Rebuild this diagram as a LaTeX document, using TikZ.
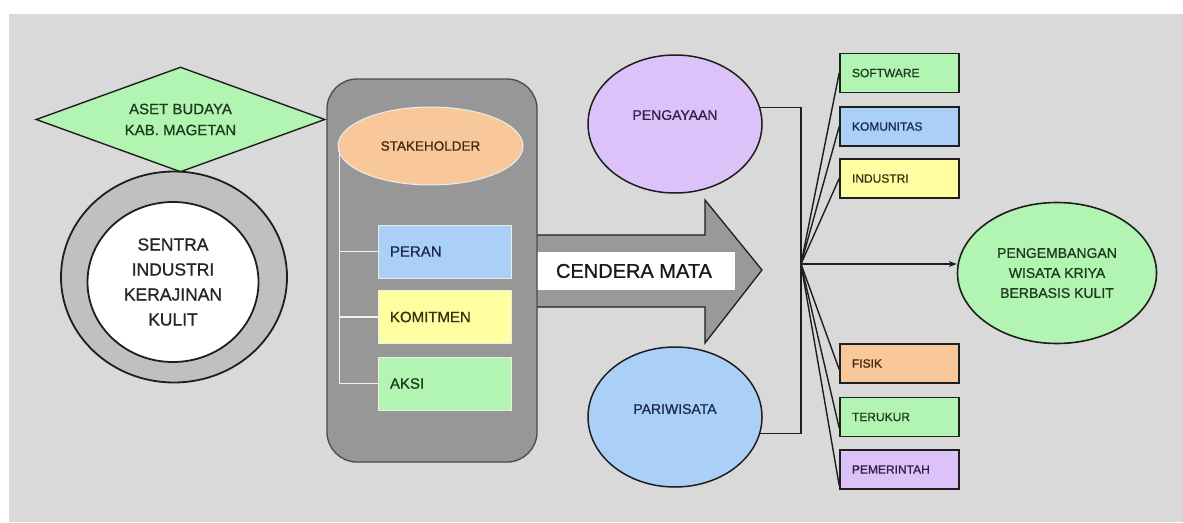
\documentclass[tikz,border=0pt]{standalone}
\usepackage{fontspec}
\setmainfont{Liberation Sans}[FakeBold=0.9]
\usetikzlibrary{shapes.geometric,arrows.meta}
\definecolor{bgc}{HTML}{D9D9D9}
\definecolor{ringc}{HTML}{C0C0C0}
\definecolor{panelc}{HTML}{979797}
\definecolor{arrowc}{HTML}{999999}
\definecolor{lgreen}{HTML}{B2F5B2}
\definecolor{lblue}{HTML}{AAD0F8}
\definecolor{lyellow}{HTML}{FFFFA2}
\definecolor{lorange}{HTML}{F8C89A}
\definecolor{lpurple}{HTML}{DCC2F8}
\definecolor{tgreen}{HTML}{1E3A1E}
\definecolor{tblue}{HTML}{1A2A4E}
\definecolor{tyellow}{HTML}{34340E}
\definecolor{torange}{HTML}{45280F}
\definecolor{tpurple}{HTML}{36204C}
\definecolor{edgec}{HTML}{1E1E1E}
\tikzset{
  x=1pt, y=-1pt,
  panelbox/.style={draw=white!85!gray, line width=1pt, minimum width=133pt, minimum height=53pt,
    inner xsep=12pt, text width=109pt, align=left, font=\fontsize{15}{18}\selectfont},
  sidebox/.style={draw=edgec, line width=1.6pt, minimum width=119pt, minimum height=39pt,
    inner xsep=12pt, text width=95pt, align=left, font=\fontsize{12}{14}\selectfont},
  bigell/.style={ellipse, draw=edgec, line width=1.5pt, inner sep=0pt},
  wline/.style={draw=white!90!gray, line width=1.4pt},
  blink/.style={draw=edgec, line width=1.4pt},
}
\begin{document}
\begin{tikzpicture}
\useasboundingbox (0,0) rectangle (1183,522);
\fill[bgc] (9,14) rectangle (1183,522);

% left side
\node[diamond, aspect=2.75, draw=edgec, line width=1.4pt, fill=lgreen, minimum width=289pt, minimum height=105pt,
  inner sep=0pt, text=tgreen, align=center, font=\fontsize{15}{21}\selectfont]
  (aset) at (180.5,119.5) {ASET BUDAYA\\KAB. MAGETAN};
\node[ellipse, draw=edgec, line width=1.8pt, fill=ringc, minimum width=226pt, minimum height=211pt,
  inner sep=0pt] (ring) at (174,277) {};
\node[ellipse, draw=edgec, line width=1.8pt, fill=white, minimum width=171pt, minimum height=160pt,
  inner sep=0pt, align=center, text=black!85, font=\fontsize{17.5}{25}\selectfont]
  (sentra) at (173,282) {SENTRA\\INDUSTRI\\KERAJINAN\\KULIT};

% big arrow
\draw[fill=arrowc, draw=edgec, line width=1.3pt]
  (530,235) -- (705,235) -- (705,200) -- (762,270) -- (705,343) -- (705,307) -- (530,307);
\node[fill=white, minimum width=198pt, minimum height=38pt, inner sep=0pt] (cbox) at (636,271) {};
\node[font=\fontsize{20}{22}\selectfont, text=black!90, inner sep=0pt] (cm) at (634,271) {CENDERA MATA};

% panel
\draw[fill=panelc, draw=edgec!80, line width=1.3pt, rounded corners=30pt] (327,79) rectangle (537,462);
\node[ellipse, fill=lorange, draw=white!85!gray, line width=1pt, minimum width=185pt, minimum height=78pt,
  inner sep=0pt, text=torange, font=\fontsize{13.5}{16}\selectfont] (stk) at (430.5,146) {STAKEHOLDER};
\node[panelbox, fill=lblue, text=tblue] (peran) at (444.5,251.5) {PERAN};
\node[panelbox, fill=lyellow, text=tyellow] (komit) at (444.5,317) {KOMITMEN};
\node[panelbox, fill=lgreen, text=tgreen] (aksi) at (444.5,383.5) {AKSI};
\coordinate (spine) at ([xshift=2pt,yshift=-4pt]stk.west);
\draw[wline] (spine) |- (aksi.west);
\draw[wline] (peran.west) -- (peran.west -| spine);
\draw[wline] (komit.west) -- (komit.west -| spine);

% middle ellipses
\node[bigell, fill=lpurple, minimum width=174pt, minimum height=138pt, text=tpurple,
  font=\fontsize{14}{16}\selectfont, text depth=18pt] (peng) at (675,124) {PENGAYAAN};
\node[bigell, fill=lblue, minimum width=174pt, minimum height=140pt, text=tblue,
  font=\fontsize{14}{16}\selectfont, text depth=16pt] (pari) at (675,417) {PARIWISATA};

% hub
\coordinate (hub) at (801,264);
\draw[blink] (peng.11.5) -- (peng.11.5 -| hub) -- (pari.-11.5 -| hub) -- (pari.-11.5);

% right boxes
\node[sidebox, fill=lgreen, text=tgreen] (soft) at (899.5,73) {SOFTWARE};
\node[sidebox, fill=lblue, text=tblue] (komu) at (899.5,126.5) {KOMUNITAS};
\node[sidebox, fill=lyellow, text=tyellow] (indu) at (899.5,178.5) {INDUSTRI};
\node[sidebox, fill=lorange, text=torange] (fisik) at (899.5,363.5) {FISIK};
\node[sidebox, fill=lgreen, text=tgreen] (teru) at (899.5,417) {TERUKUR};
\node[sidebox, fill=lpurple, text=tpurple] (peme) at (899.5,469.5) {PEMERINTAH};

\node[bigell, line width=1.6pt, fill=lgreen, minimum width=199pt, minimum height=141pt, align=center,
  text=tgreen, font=\fontsize{14}{20}\selectfont] (goal) at (1057,273)
  {PENGEMBANGAN\\WISATA KRIYA\\BERBASIS KULIT};

\draw[blink] (hub) -- (soft.west);
\draw[blink] (hub) -- (komu.west);
\draw[blink] (hub) -- (indu.west);
\draw[blink] (hub) -- ([yshift=-6pt]fisik.west);
\draw[blink] (hub) -- ([yshift=-11pt]teru.west);
\draw[blink] (hub) -- ([yshift=-16pt]peme.west);
\draw[blink, -{Stealth[length=8pt,width=6pt]}] (hub) -- (goal.west |- hub);
\end{tikzpicture}
\end{document}
